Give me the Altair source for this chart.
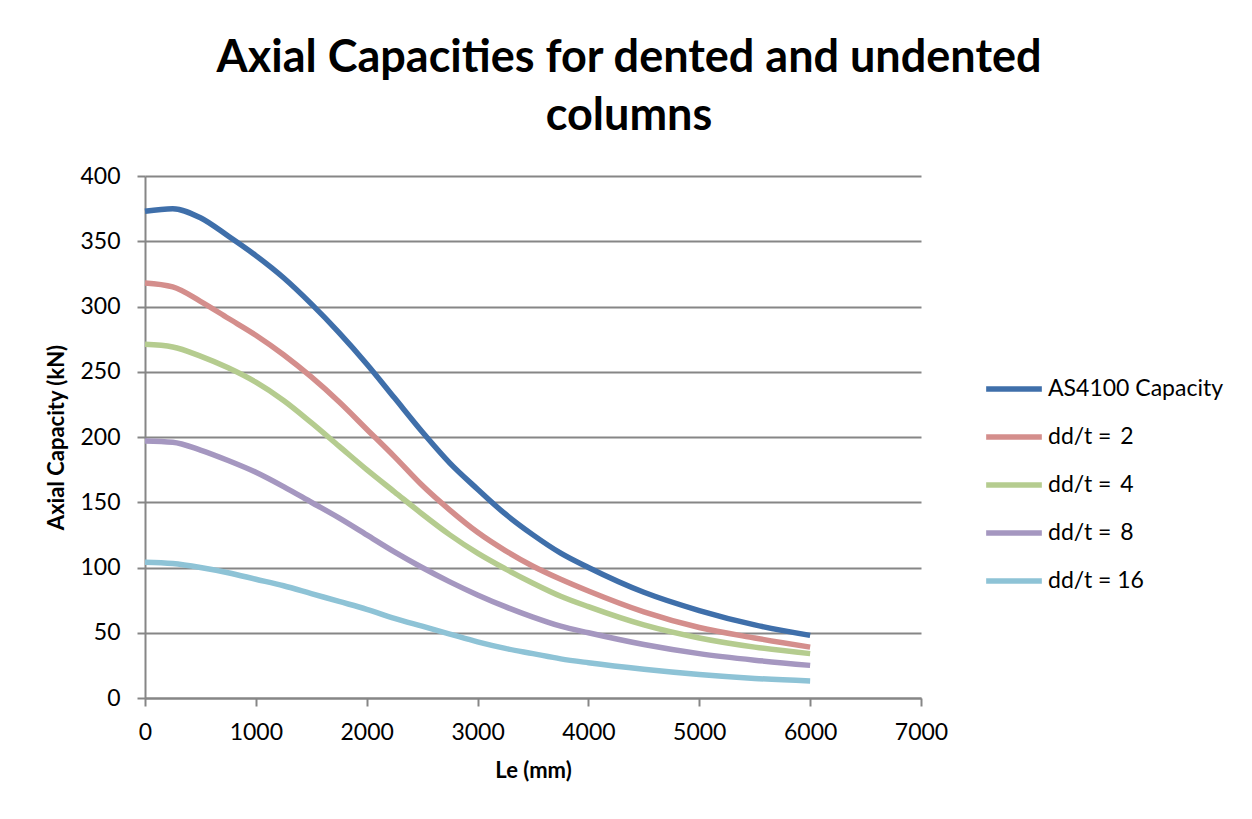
import altair as alt
import pandas as pd

le_mm = [0, 250, 500, 750, 1000, 1250, 1500, 1750, 2000, 2250, 2500, 2750,
         3000, 3250, 3500, 3750, 4000, 4500, 5000, 5500, 6000]

as4100 = [373, 375, 368, 354, 339, 322, 302, 280, 256, 230, 204, 180,
          160, 141, 125, 111, 100, 81, 67, 56, 48]
dd2 = [318, 315, 304, 291, 278, 263, 246, 227, 206, 185, 163, 144,
       127, 113, 101, 91, 82, 66, 54, 46, 39]
dd4 = [271, 269, 262, 253, 242, 228, 211, 193, 175, 158, 141, 125,
       111, 99, 88, 78, 70, 56, 46, 39, 34]
dd8 = [197, 196, 190, 182, 173, 162, 150, 138, 125, 112, 100, 89,
       79, 70, 62, 55, 50, 41, 34, 29, 25]
dd16 = [104, 103, 100, 96, 91, 86, 80, 74, 68, 61, 55, 49,
        43, 38, 34, 30, 27, 22, 18, 15, 13]

series_names = ["AS4100 Capacity", "dd/t = \u20092", "dd/t = \u20094",
                "dd/t = \u20098", "dd/t = 16"]
series_values = [as4100, dd2, dd4, dd8, dd16]
colors = ["#3F6FAA", "#D48E8C", "#B5CC8F", "#A597C0", "#8EC3D6"]

rows = []
for name, vals in zip(series_names, series_values):
    for x, y in zip(le_mm, vals):
        rows.append({"Le": x, "Capacity": y, "Series": name})
df = pd.DataFrame(rows)

FONT = "Lato"

chart = alt.Chart(df).mark_line(strokeWidth=5.5, interpolate="monotone").encode(
    x=alt.X("Le:Q", scale=alt.Scale(domain=[0, 7000], nice=False),
            axis=alt.Axis(title="Le (mm)", values=list(range(0, 7001, 1000)),
                          format="d", labelFlush=False,
                          grid=False, tickSize=8, labelPadding=15,
                          labelFontSize=23, titleFontSize=22, titleFontWeight="bold",
                          titlePadding=16, domainColor="#868686", tickColor="#868686",
                          domainWidth=2, tickWidth=2, labelColor="#000000",
                          titleColor="#000000")),
    y=alt.Y("Capacity:Q", scale=alt.Scale(domain=[0, 400], nice=False),
            axis=alt.Axis(title="Axial Capacity (kN)", values=list(range(0, 401, 50)),
                          format="d", labelFlush=False,
                          grid=True, gridColor="#868686", gridWidth=2,
                          tickSize=8, labelPadding=17,
                          labelFontSize=23, titleFontSize=22, titleFontWeight="bold",
                          titlePadding=11, domainColor="#868686", tickColor="#868686",
                          domainWidth=2, tickWidth=2, labelColor="#000000",
                          titleColor="#000000")),
    color=alt.Color("Series:N", sort=series_names,
                    scale=alt.Scale(domain=series_names, range=colors),
                    legend=alt.Legend(title=None, orient="none", legendX=838, legendY=182,
                                      symbolType="stroke", symbolSize=3100,
                                      symbolStrokeWidth=5.5, labelFontSize=23,
                                      rowPadding=5, labelOffset=3, labelLimit=0,
                                      labelColor="#000000")),
).properties(
    width=776,
    height=522,
    title=alt.TitleParams(
        text=["Axial Capacities for dented and undented", "columns"],
        fontSize=45, fontWeight="bold", font=FONT, color="#000000",
        anchor="middle", dx=96, offset=26, lineHeight=58,
    ),
    autosize=alt.AutoSizeParams(type="none"),
    padding={"left": 145, "top": 176, "right": 331, "bottom": 121},
).configure(
    font=FONT,
    background="#FFFFFF",
).configure_view(
    stroke=None,
).configure_axis(
    labelFont=FONT, titleFont=FONT,
).configure_legend(
    labelFont=FONT,
)

chart.save("out.html", embed_options={"renderer": "svg", "actions": False})
